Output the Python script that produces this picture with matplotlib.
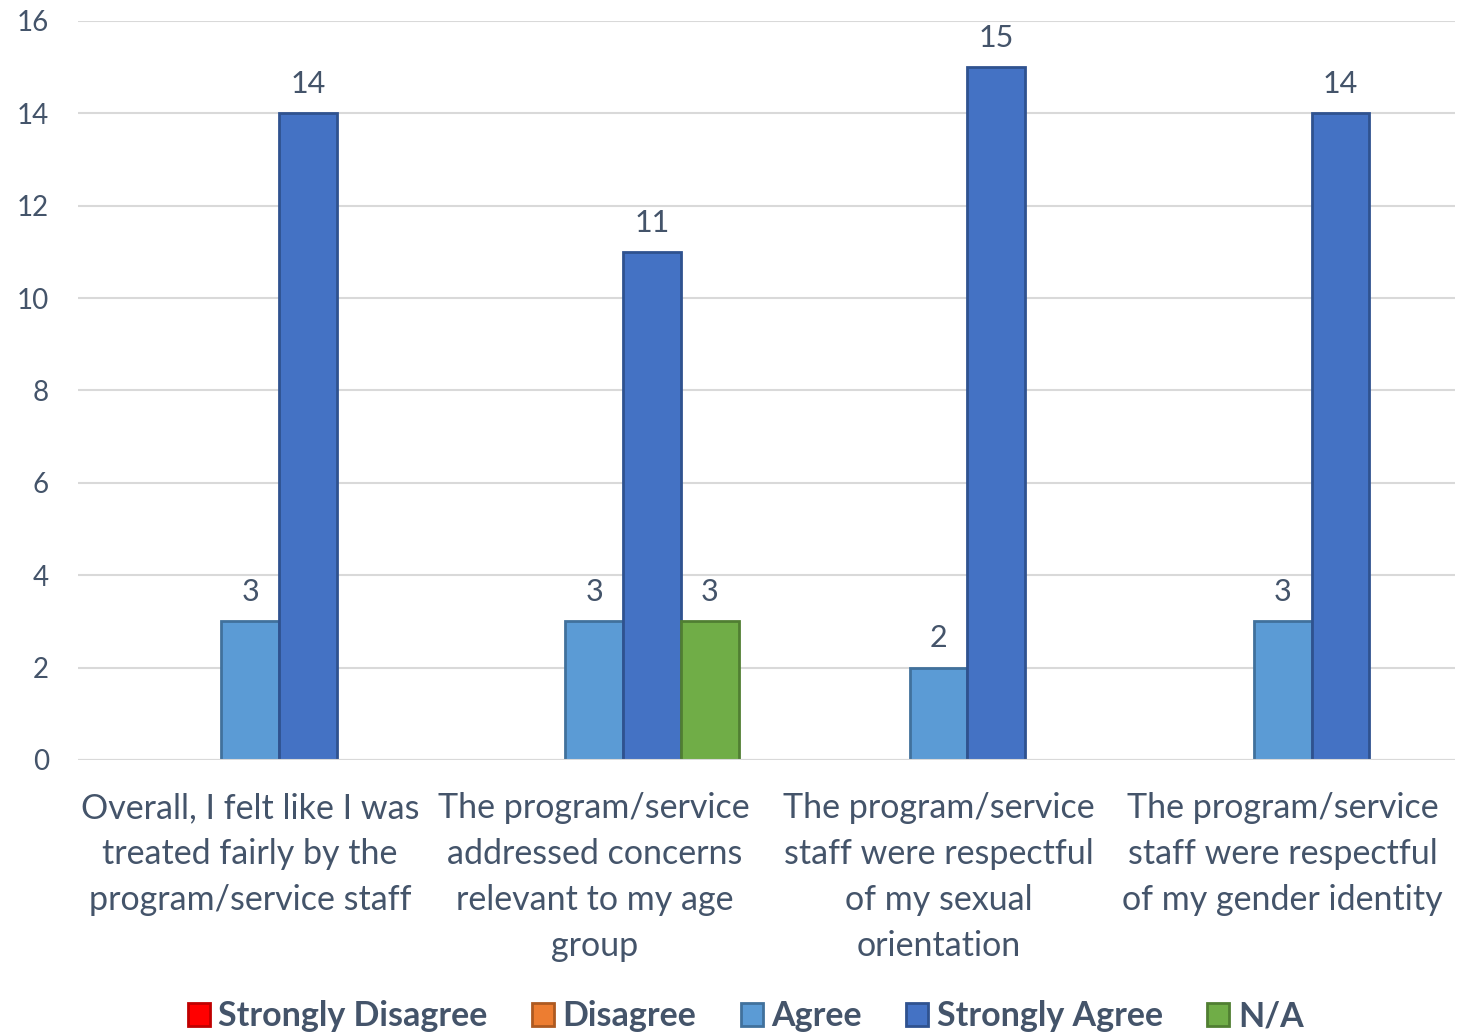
import matplotlib.pyplot as plt
import numpy as np

categories = ["Overall, I felt like I was\ntreated fairly by the\nprogram/service staff",
              "The program/service\naddressed concerns\nrelevant to my age\ngroup",
              "The program/service\nstaff were respectful\nof my sexual\norientation",
              "The program/service\nstaff were respectful\nof my gender identity"]
series = ["Strongly Disagree", "Disagree", "Agree", "Strongly Agree", "N/A"]
strongly_disagree = [0, 0, 0, 0]
disagree = [0, 0, 0, 0]
agree = [3, 3, 2, 3]
strongly_agree = [14, 11, 15, 14]
na = [0, 3, 0, 0]

values = [strongly_disagree, disagree, agree, strongly_agree, na]
faces = ["#FF0000", "#ED7D31", "#5B9BD5", "#4472C4", "#70AD47"]
edges = ["#C00000", "#AE5A21", "#41719C", "#2F528F", "#507E32"]

txt = "#44546A"
plt.rcParams['font.family'] = ['Lato', 'DejaVu Sans']

fig = plt.figure(figsize=(14.71, 10.33), dpi=100)
ax = fig.add_axes([0.053, 0.2643, 0.936, 0.7154])

x = np.arange(len(categories))
w = 0.168
for i, (name, vals) in enumerate(zip(series, values)):
    pos = x + (i - 2) * w
    bars = ax.bar(pos, vals, w, color=faces[i], edgecolor=edges[i], linewidth=2,
                  label=name, zorder=3)
    for b, v in zip(bars, vals):
        if v > 0:
            ax.text(b.get_x() + b.get_width() / 2, v + 0.33, str(v), ha='center',
                    va='bottom', fontsize=22, color=txt)

ax.set_xlim(-0.5, 3.5)
ax.set_ylim(0, 16)
ax.set_yticks(range(0, 17, 2))
ax.grid(axis='y', color='#D9D9D9', linewidth=1.5, zorder=0)
for s in ax.spines.values():
    s.set_visible(False)
ax.axhline(0, color='#D9D9D9', linewidth=1.5, zorder=4)
ax.tick_params(axis='both', length=0, labelsize=20, labelcolor=txt)
ax.tick_params(axis='y', pad=21)
ax.set_xticks(x)
ax.set_xticklabels(categories, fontsize=24.5, linespacing=1.54)
ax.tick_params(axis='x', pad=23)

leg = ax.legend(loc='lower center', bbox_to_anchor=(0.485, -0.41), ncol=5, frameon=False,
                prop={'weight': 'bold', 'size': 24.5}, handlelength=0.65, handleheight=0.65,
                handletextpad=0.25, columnspacing=1.3)
for t in leg.get_texts():
    t.set_color(txt)

fig.savefig("out.png", dpi=100)
